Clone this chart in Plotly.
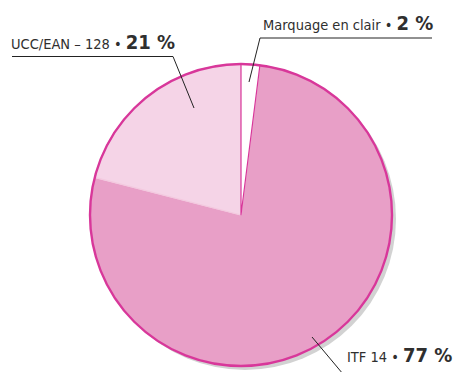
import plotly.graph_objects as go

# Shares of barcode types
labels = ["ITF 14", "UCC/EAN – 128", "Marquage en clair"]
values = [77, 21, 2]
fill_colors = ["#e89fc7", "#f5d4e7", "#ffffff"]
edge_colors = ["#f3c9df", "#f3c9df", "#d8379a"]

W, H = 455, 372
CX, CY, R = 241, 215, 151  # pie centre and radius in pixels


def px(x):
    return x / W


def py(y):
    return (H - y) / H


def domain(cx, cy, r):
    return dict(x=[px(cx - r), px(cx + r)], y=[py(cy + r), py(cy - r)])


fig = go.Figure()

# drop shadow behind the pie
fig.add_trace(go.Pie(
    values=[1], labels=["shadow"], domain=domain(CX + 4, CY + 4, R),
    marker=dict(colors=["#d2d2d2"], line=dict(width=0)),
    textinfo="none", hoverinfo="skip", showlegend=False, sort=False,
))

# slices, starting just right of 12 o'clock so the 2 % slice is drawn last
fig.add_trace(go.Pie(
    values=values, labels=labels, domain=domain(CX, CY, R),
    marker=dict(colors=fill_colors, line=dict(color=edge_colors, width=1.2)),
    direction="clockwise", sort=False, rotation=360 * values[2] / sum(values),
    textinfo="none", showlegend=False,
))

# magenta rim
fig.add_trace(go.Pie(
    values=[1], labels=["rim"], domain=domain(CX, CY, R),
    marker=dict(colors=["rgba(0,0,0,0)"], line=dict(color="#d8379a", width=2.4)),
    textinfo="none", hoverinfo="skip", showlegend=False, sort=False,
))

font = "DejaVu Sans Condensed, Liberation Sans Narrow, sans-serif"
txt = "#2f2f2f"


def label(name, pct, x, y, anchor="left"):
    return dict(
        text=f"<span style='font-size:14.5px'>{name} • </span>"
             f"<b style='font-size:20px'>{pct} %</b>",
        x=px(x), y=py(y), xref="paper", yref="paper",
        xanchor=anchor, yanchor="bottom", showarrow=False,
        font=dict(family=font, color=txt), borderpad=0,
    )


annotations = [
    label("UCC/EAN – 128", values[1], 10, 55),
    label("Marquage en clair", values[2], 434, 36, "right"),
    label("ITF 14", values[0], 453, 368, "right"),
]

line = dict(color="#222222", width=1)
shapes = [
    # UCC/EAN leader
    dict(type="line", xref="paper", yref="paper", x0=px(12), y0=py(56.5), x1=px(173), y1=py(56.5), line=line),
    dict(type="line", xref="paper", yref="paper", x0=px(173), y0=py(56.5), x1=px(194), y1=py(108), line=line),
    # Marquage leader
    dict(type="line", xref="paper", yref="paper", x0=px(260), y0=py(38), x1=px(432), y1=py(38), line=line),
    dict(type="line", xref="paper", yref="paper", x0=px(260), y0=py(38), x1=px(249), y1=py(82), line=line),
    # ITF leader
    dict(type="line", xref="paper", yref="paper", x0=px(312), y0=py(337), x1=px(343), y1=py(374), line=line),
]

fig.update_layout(
    width=W, height=H, margin=dict(l=0, r=0, t=0, b=0),
    paper_bgcolor="white", plot_bgcolor="white",
    annotations=annotations, shapes=shapes, showlegend=False,
)

fig.write_html("out.html")
